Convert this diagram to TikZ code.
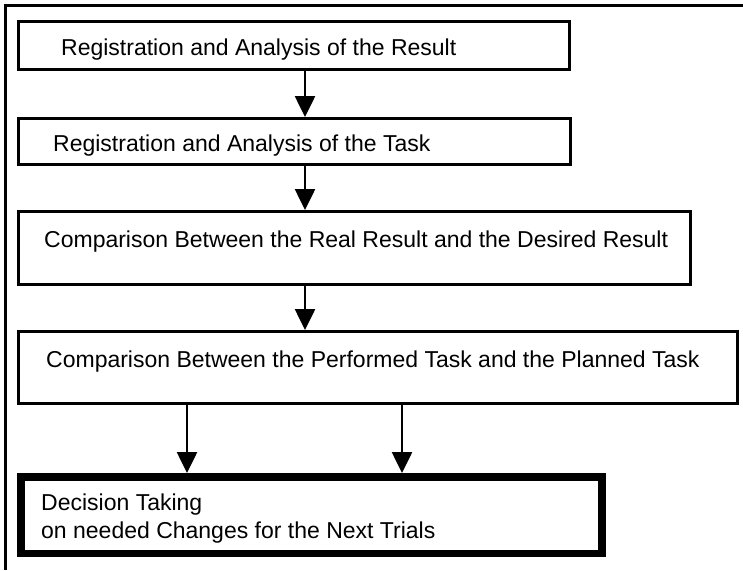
\documentclass[tikz,border=0pt]{standalone}
\usepackage{fontspec}
\setmainfont{Liberation Sans}
\usetikzlibrary{arrows.meta,positioning}
\begin{document}
\begin{tikzpicture}[x=1pt,y=-1pt,
  box/.style={draw=black,line width=2.8pt,inner sep=0pt,anchor=north west,rectangle},
  bigbox/.style={draw=black,line width=7.5pt,inner sep=0pt,anchor=north west,rectangle},
  lbl/.style={inner sep=0pt,anchor=base west,font=\fontsize{23}{27}\selectfont},
  arr/.style={line width=2.6pt,-{Triangle[width=20pt,length=21pt]}}]
\useasboundingbox (0,0) rectangle (743,570);
% outer frame (top and left edges visible)
\draw[line width=2.5pt] (743,5.5) -- (5.5,5.5) -- (5.5,570);
% boxes
\node[box,minimum width=551pt,minimum height=48pt] (b1) at (17,20) {};
\node[box,minimum width=552pt,minimum height=46pt] (b2) at (17,117) {};
\node[box,minimum width=672pt,minimum height=73pt] (b3) at (17,210) {};
\node[box,minimum width=719pt,minimum height=72pt] (b4) at (17,330) {};
\node[bigbox,minimum width=581pt,minimum height=76.5pt] (b5) at (17,473) {};
% texts
\node[lbl] (t1) at (61,55) {Registration and Analysis of the Result};
\node[lbl] (t2) at (53,151) {Registration and Analysis of the Task};
\node[lbl] (t3) at (44,247) {Comparison Between the Real Result and the Desired Result};
\node[lbl] (t4) at (46,367) {Comparison Between the Performed Task and the Planned Task};
\node[lbl] (t5a) at (41,510) {Decision Taking};
\node[lbl] (t5b) at (41,538) {on needed Changes for the Next Trials};
% arrow columns
\coordinate (c1) at (305,0);
\coordinate (c2) at (187,0);
\coordinate (c3) at (402,0);
\draw[arr] (b1.south -| c1) -- (b2.north -| c1);
\draw[arr] (b2.south -| c1) -- (b3.north -| c1);
\draw[arr] (b3.south -| c1) -- (b4.north -| c1);
\draw[arr] (b4.south -| c2) -- (b5.north -| c2);
\draw[arr] (b4.south -| c3) -- (b5.north -| c3);
\end{tikzpicture}
\end{document}
